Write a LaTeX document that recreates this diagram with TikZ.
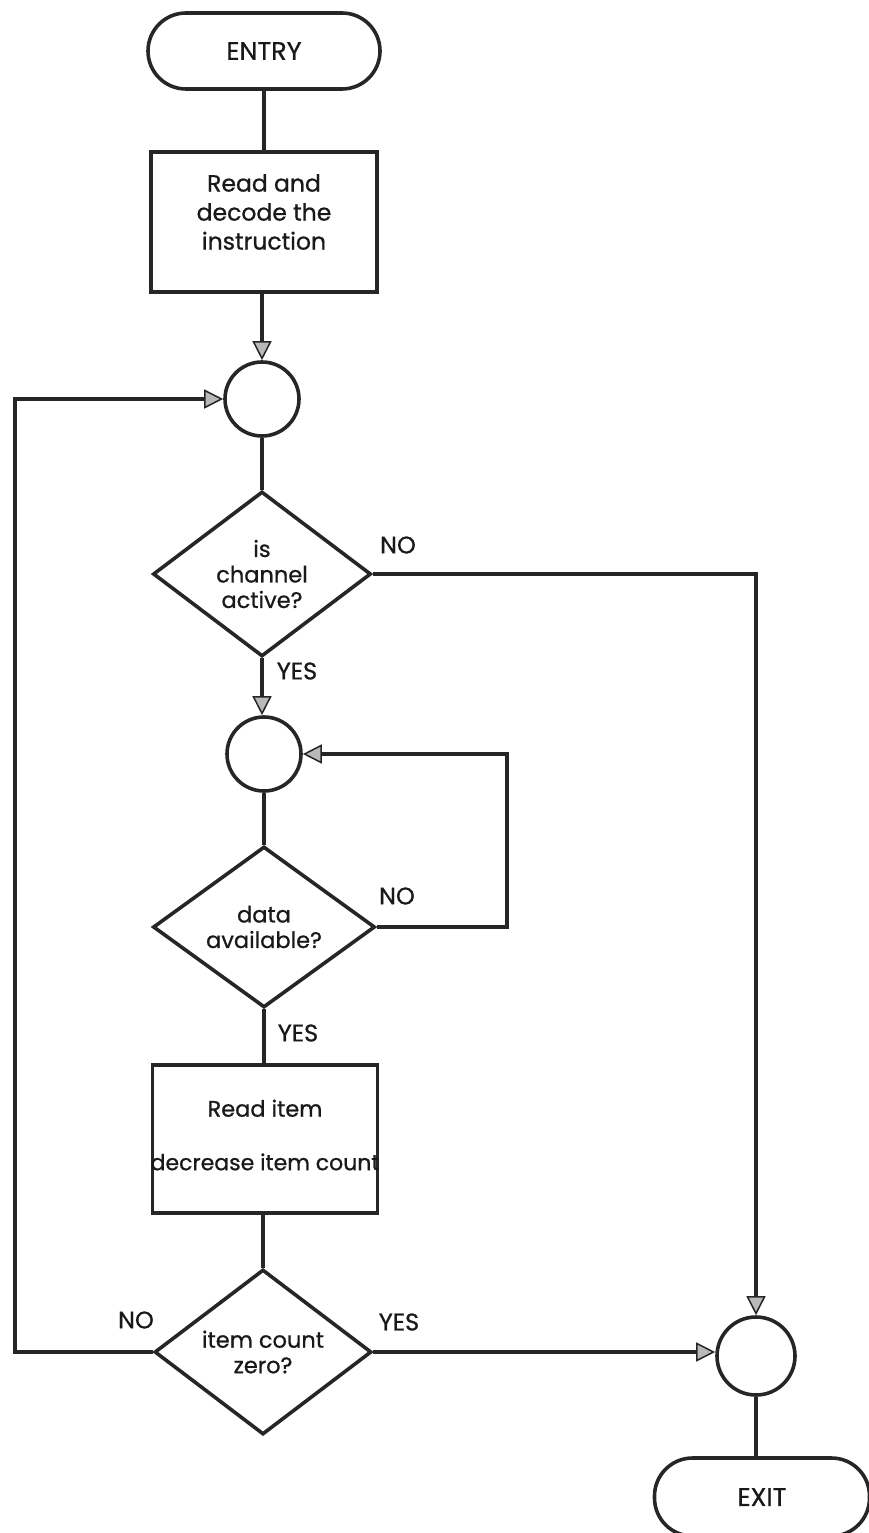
\documentclass[tikz,border=0pt]{standalone}
\usepackage{fontspec}
\setmainfont{Poppins}[UprightFeatures={FakeBold=0.8}]
\usetikzlibrary{shapes.geometric,arrows.meta}
\begin{document}
\begin{tikzpicture}[x=1pt,y=-1pt,
  ln/.style={line width=3.6pt,draw=black!85},
  txt/.style={font=\fontsize{22.5}{25.5}\selectfont,text=black!90},
  term/.style={ln,txt,font=\fontsize{25.5}{28}\selectfont,rounded corners=38pt,minimum width=232pt,minimum height=76pt},
  proc/.style={ln,align=center,minimum width=226pt,minimum height=140pt},
  dec/.style={ln,txt,diamond,align=center,inner sep=0pt,minimum width=218pt,minimum height=165pt},
  conn/.style={ln,circle,minimum size=74pt,inner sep=0pt},
  arr/.style={ln,-{Triangle[length=19pt,width=19pt,fill=gray!55,line width=1.5pt]}},
  lbl/.style={txt,font=\fontsize{24}{28}\selectfont}]
\useasboundingbox (0,0) rectangle (869,1533);
\node[term] (entry) at (264,51) {ENTRY};
\node[proc,label={[txt,align=center,font=\fontsize{23.5}{29}\selectfont,yshift=10pt]center:Read and\\decode the\\instruction}] (box1) at (264,222) {};
\node[conn] (c1) at (262,399) {};
\node[dec] (d1) at (262,574) {is\\channel\\active?};
\node[conn] (c2) at (264,754) {};
\node[dec,minimum width=222pt,minimum height=161pt] (d2) at (264,927) {data\\available?};
\node[proc,minimum width=225pt,minimum height=148pt,label={[txt,align=center,yshift=4pt]center:Read item\\[28pt]\fontsize{22}{24}\selectfont decrease item count}] (box2) at (265,1139) {};
\node[dec,minimum width=217pt,minimum height=165pt] (d3) at (263,1352) {item count\\zero?};
\node[conn,minimum size=78pt] (c3) at (756,1356) {};
\node[term,minimum width=215pt,minimum height=78pt] (exit) at (762,1497) {EXIT};

\draw[ln] (entry.south) -- (entry.south |- box1.north);
\draw[arr] (box1.south -| c1.north) -- (c1.north);
\draw[ln] (c1.south) -- (d1.north);
\draw[arr] (d1.south) -- (d1.south |- c2.north);
\draw[ln] (c2.south) -- (d2.north);
\draw[ln] (d2.south) -- (d2.south |- box2.north);
\draw[ln] (box2.south -| d3.north) -- (d3.north);
\draw[ln] (c3.south) -- (c3.south |- exit.north);

\coordinate (lft) at (15,1352);
\draw[arr] (d3.west) -- (lft) |- (c1.west);
\coordinate (lp) at (507,927);
\draw[arr] (d2.east) -- (lp) |- (c2.east);
\draw[arr] (d1.east) -| (c3.north);
\draw[arr] (d3.east) -- (d3.east -| c3.west);

\node[lbl] (no1) at (398,545) {NO};
\node[lbl] (yes1) at (297,671) {YES};
\node[lbl] (no2) at (397,896) {NO};
\node[lbl] (yes2) at (298,1033) {YES};
\node[lbl] (no3) at (136,1320) {NO};
\node[lbl] (yes3) at (399,1322) {YES};
\end{tikzpicture}
\end{document}
